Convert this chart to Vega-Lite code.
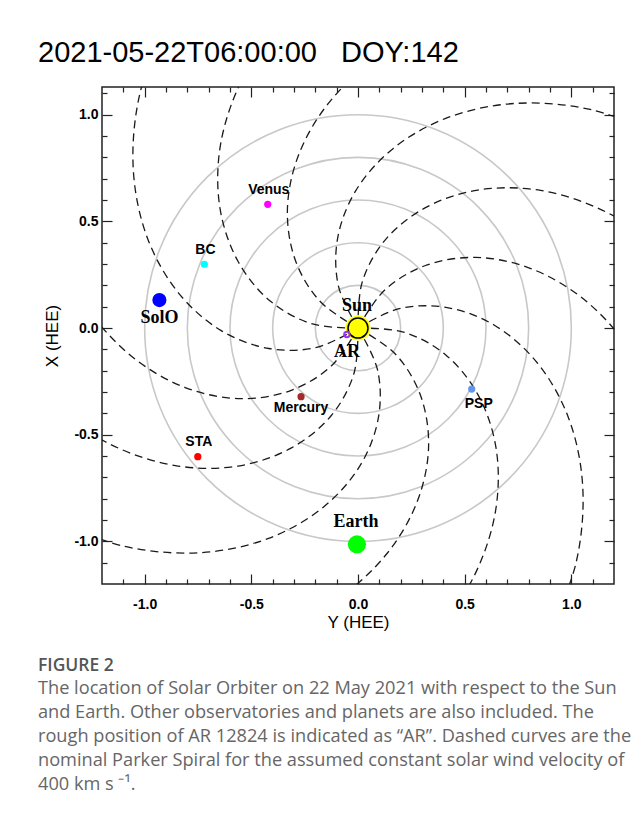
{
  "$schema": "https://vega.github.io/schema/vega-lite/v6.json",
  "background": "#ffffff",
  "padding": {"left": 37, "top": 38, "right": 10, "bottom": 10},
  "autosize": {"type": "pad"},
  "spacing": 26,
  "config": {"view": {"stroke": null}, "font": "Liberation Sans"},
  "datasets": {
    "rings": [
      {"x": 0, "y": 0, "r": 0.2},
      {"x": 0, "y": 0, "r": 0.4},
      {"x": 0, "y": 0, "r": 0.6},
      {"x": 0, "y": 0, "r": 0.8},
      {"x": 0, "y": 0, "r": 1.0}
    ],
    "objects": [
      {"name": "SolO", "x": -0.931, "y": 0.131},
      {"name": "BC", "x": -0.72, "y": 0.299},
      {"name": "Venus", "x": -0.423, "y": 0.58},
      {"name": "Mercury", "x": -0.267, "y": -0.322},
      {"name": "STA", "x": -0.751, "y": -0.603},
      {"name": "PSP", "x": 0.533, "y": -0.286},
      {"name": "Earth", "x": -0.005, "y": -1.014},
      {"name": "AR", "x": -0.052, "y": -0.03},
      {"name": "Sun", "x": 0, "y": 0}
    ],
    "spirals": [
      {"s": "A", "j": 0, "x": 0, "y": 0}, {"s": "A", "j": 1, "x": 0.213, "y": -0.019}, {"s": "A", "j": 2, "x": 0.41, "y": -0.125}, {"s": "A", "j": 3, "x": 0.562, "y": -0.312}, {"s": "A", "j": 4, "x": 0.647, "y": -0.562}, {"s": "A", "j": 5, "x": 0.645, "y": -0.856}, {"s": "A", "j": 6, "x": 0.543, "y": -1.165}, {"s": "A", "j": 7, "x": 0.337, "y": -1.462}, {"s": "A", "j": 8, "x": 0.03, "y": -1.714},
      {"s": "B", "j": 0, "x": 0, "y": 0}, {"s": "B", "j": 1, "x": 0.194, "y": 0.091}, {"s": "B", "j": 2, "x": 0.418, "y": 0.096}, {"s": "B", "j": 3, "x": 0.643, "y": 0.011}, {"s": "B", "j": 4, "x": 0.841, "y": -0.164}, {"s": "B", "j": 5, "x": 0.986, "y": -0.419}, {"s": "B", "j": 6, "x": 1.053, "y": -0.737}, {"s": "B", "j": 7, "x": 1.023, "y": -1.097}, {"s": "B", "j": 8, "x": 0.883, "y": -1.469},
      {"s": "C", "j": 0, "x": 0, "y": 0}, {"s": "C", "j": 1, "x": 0.123, "y": 0.176}, {"s": "C", "j": 2, "x": 0.313, "y": 0.292}, {"s": "C", "j": 3, "x": 0.551, "y": 0.331}, {"s": "C", "j": 4, "x": 0.81, "y": 0.279}, {"s": "C", "j": 5, "x": 1.063, "y": 0.131}, {"s": "C", "j": 6, "x": 1.281, "y": -0.112}, {"s": "C", "j": 7, "x": 1.434, "y": -0.439}, {"s": "C", "j": 8, "x": 1.499, "y": -0.831},
      {"s": "D", "j": 0, "x": 0, "y": 0}, {"s": "D", "j": 1, "x": 0.019, "y": 0.213}, {"s": "D", "j": 2, "x": 0.125, "y": 0.41}, {"s": "D", "j": 3, "x": 0.312, "y": 0.562}, {"s": "D", "j": 4, "x": 0.562, "y": 0.647}, {"s": "D", "j": 5, "x": 0.856, "y": 0.645}, {"s": "D", "j": 6, "x": 1.165, "y": 0.543}, {"s": "D", "j": 7, "x": 1.462, "y": 0.337}, {"s": "D", "j": 8, "x": 1.714, "y": 0.03},
      {"s": "E", "j": 0, "x": 0, "y": 0}, {"s": "E", "j": 1, "x": -0.091, "y": 0.194}, {"s": "E", "j": 2, "x": -0.096, "y": 0.418}, {"s": "E", "j": 3, "x": -0.011, "y": 0.643}, {"s": "E", "j": 4, "x": 0.164, "y": 0.841}, {"s": "E", "j": 5, "x": 0.419, "y": 0.986}, {"s": "E", "j": 6, "x": 0.737, "y": 1.053}, {"s": "E", "j": 7, "x": 1.097, "y": 1.023}, {"s": "E", "j": 8, "x": 1.469, "y": 0.883},
      {"s": "F", "j": 0, "x": 0, "y": 0}, {"s": "F", "j": 1, "x": -0.176, "y": 0.123}, {"s": "F", "j": 2, "x": -0.292, "y": 0.313}, {"s": "F", "j": 3, "x": -0.331, "y": 0.551}, {"s": "F", "j": 4, "x": -0.279, "y": 0.81}, {"s": "F", "j": 5, "x": -0.131, "y": 1.063}, {"s": "F", "j": 6, "x": 0.112, "y": 1.281}, {"s": "F", "j": 7, "x": 0.439, "y": 1.434}, {"s": "F", "j": 8, "x": 0.831, "y": 1.499},
      {"s": "G", "j": 0, "x": 0, "y": 0}, {"s": "G", "j": 1, "x": -0.213, "y": 0.019}, {"s": "G", "j": 2, "x": -0.41, "y": 0.125}, {"s": "G", "j": 3, "x": -0.562, "y": 0.312}, {"s": "G", "j": 4, "x": -0.647, "y": 0.562}, {"s": "G", "j": 5, "x": -0.645, "y": 0.856}, {"s": "G", "j": 6, "x": -0.543, "y": 1.165}, {"s": "G", "j": 7, "x": -0.337, "y": 1.462}, {"s": "G", "j": 8, "x": -0.03, "y": 1.714},
      {"s": "H", "j": 0, "x": 0, "y": 0}, {"s": "H", "j": 1, "x": -0.194, "y": -0.091}, {"s": "H", "j": 2, "x": -0.418, "y": -0.096}, {"s": "H", "j": 3, "x": -0.643, "y": -0.011}, {"s": "H", "j": 4, "x": -0.841, "y": 0.164}, {"s": "H", "j": 5, "x": -0.986, "y": 0.419}, {"s": "H", "j": 6, "x": -1.053, "y": 0.737}, {"s": "H", "j": 7, "x": -1.023, "y": 1.097}, {"s": "H", "j": 8, "x": -0.883, "y": 1.469},
      {"s": "I", "j": 0, "x": 0, "y": 0}, {"s": "I", "j": 1, "x": -0.123, "y": -0.176}, {"s": "I", "j": 2, "x": -0.313, "y": -0.292}, {"s": "I", "j": 3, "x": -0.551, "y": -0.331}, {"s": "I", "j": 4, "x": -0.81, "y": -0.279}, {"s": "I", "j": 5, "x": -1.063, "y": -0.131}, {"s": "I", "j": 6, "x": -1.281, "y": 0.112}, {"s": "I", "j": 7, "x": -1.434, "y": 0.439}, {"s": "I", "j": 8, "x": -1.499, "y": 0.831},
      {"s": "J", "j": 0, "x": 0, "y": 0}, {"s": "J", "j": 1, "x": -0.019, "y": -0.213}, {"s": "J", "j": 2, "x": -0.125, "y": -0.41}, {"s": "J", "j": 3, "x": -0.312, "y": -0.562}, {"s": "J", "j": 4, "x": -0.562, "y": -0.647}, {"s": "J", "j": 5, "x": -0.856, "y": -0.645}, {"s": "J", "j": 6, "x": -1.165, "y": -0.543}, {"s": "J", "j": 7, "x": -1.462, "y": -0.337}, {"s": "J", "j": 8, "x": -1.714, "y": -0.03},
      {"s": "K", "j": 0, "x": 0, "y": 0}, {"s": "K", "j": 1, "x": 0.091, "y": -0.194}, {"s": "K", "j": 2, "x": 0.096, "y": -0.418}, {"s": "K", "j": 3, "x": 0.011, "y": -0.643}, {"s": "K", "j": 4, "x": -0.164, "y": -0.841}, {"s": "K", "j": 5, "x": -0.419, "y": -0.986}, {"s": "K", "j": 6, "x": -0.737, "y": -1.053}, {"s": "K", "j": 7, "x": -1.097, "y": -1.023}, {"s": "K", "j": 8, "x": -1.469, "y": -0.883},
      {"s": "L", "j": 0, "x": 0, "y": 0}, {"s": "L", "j": 1, "x": 0.176, "y": -0.123}, {"s": "L", "j": 2, "x": 0.292, "y": -0.313}, {"s": "L", "j": 3, "x": 0.331, "y": -0.551}, {"s": "L", "j": 4, "x": 0.279, "y": -0.81}, {"s": "L", "j": 5, "x": 0.131, "y": -1.063}, {"s": "L", "j": 6, "x": -0.112, "y": -1.281}, {"s": "L", "j": 7, "x": -0.439, "y": -1.434}, {"s": "L", "j": 8, "x": -0.831, "y": -1.499}
    ]
  },
  "vconcat": [
    {
      "width": 512,
      "height": 497,
      "view": {"stroke": "#222222", "strokeWidth": 1.5},
      "title": {
        "text": "2021-05-22T06:00:00\u00a0\u00a0\u00a0DOY:142",
        "anchor": "start",
        "frame": "group",
        "dx": -64,
        "offset": 18,
        "font": "Liberation Sans",
        "fontSize": 29,
        "fontWeight": "normal",
        "color": "#000000"
      },
      "resolve": {"axis": {"x": "independent", "y": "independent"}},
      "layer": [
        {
          "data": {"name": "rings"},
          "mark": {"type": "point", "shape": "circle", "filled": false, "stroke": "#c8c8c8", "strokeWidth": 1.6, "opacity": 1},
          "encoding": {
            "x": {"field": "x", "type": "quantitative", "scale": {"domain": [-1.2, 1.2], "nice": false, "zero": false},
              "axis": {"orient": "bottom", "values": [-1, -0.5, 0, 0.5, 1], "ticks": false, "domain": false, "grid": false,
                "labelExpr": "(datum.value < 0 ? '-' : '') + format(abs(datum.value), '.1f')",
                "labelFont": "Liberation Sans", "labelFontSize": 14, "labelFontWeight": "bold", "labelColor": "#000000", "labelPadding": 13,
                "title": "Y (HEE)", "titleFont": "Liberation Sans", "titleFontSize": 17, "titleFontWeight": "normal", "titleColor": "#000000", "titlePadding": 3}},
            "y": {"field": "y", "type": "quantitative", "scale": {"domain": [-1.2, 1.13], "nice": false, "zero": false},
              "axis": {"orient": "left", "values": [-1, -0.5, 0, 0.5, 1], "ticks": false, "domain": false, "grid": false,
                "labelExpr": "(datum.value < 0 ? '-' : '') + format(abs(datum.value), '.1f')",
                "labelFont": "Liberation Sans", "labelFontSize": 14, "labelFontWeight": "bold", "labelColor": "#000000", "labelPadding": 4,
                "title": "X (HEE)", "titleFont": "Liberation Sans", "titleFontSize": 17, "titleFontWeight": "normal", "titleColor": "#000000", "titlePadding": 12}},
            "size": {"field": "r", "type": "quantitative", "scale": {"type": "pow", "exponent": 2, "domain": [0, 1], "range": [0, 182044]}, "legend": null}
          }
        },
        {
          "data": {"name": "spirals"},
          "mark": {"type": "line", "clip": true, "interpolate": "catmull-rom", "stroke": "#1a1a1a", "strokeWidth": 1.3, "strokeDash": [8, 5]},
          "encoding": {
            "x": {"field": "x", "type": "quantitative", "scale": {"domain": [-1.2, 1.2], "nice": false, "zero": false},
              "axis": {"orient": "bottom", "values": [-1, -0.5, 0, 0.5, 1], "labels": false, "domain": false, "grid": false, "title": null, "tickSize": -10, "tickColor": "#222222", "tickWidth": 1.2}},
            "y": {"field": "y", "type": "quantitative", "scale": {"domain": [-1.2, 1.13], "nice": false, "zero": false},
              "axis": {"orient": "left", "values": [-1, -0.5, 0, 0.5, 1], "labels": false, "domain": false, "grid": false, "title": null, "tickSize": -10, "tickColor": "#222222", "tickWidth": 1.2}},
            "detail": {"field": "s", "type": "nominal"},
            "order": {"field": "j", "type": "quantitative"}
          }
        },
        {
          "data": {"name": "objects"},
          "transform": [{"filter": {"field": "name", "oneOf": ["BC", "Venus", "Mercury", "STA", "PSP"]}}],
          "mark": {"type": "point", "shape": "circle", "filled": true, "opacity": 1, "size": 52},
          "encoding": {
            "x": {"field": "x", "type": "quantitative", "scale": {"domain": [-1.2, 1.2], "nice": false, "zero": false},
              "axis": {"orient": "bottom", "values": [-1.1, -0.9, -0.8, -0.7, -0.6, -0.4, -0.3, -0.2, -0.1, 0.1, 0.2, 0.3, 0.4, 0.6, 0.7, 0.8, 0.9, 1.1], "labels": false, "domain": false, "grid": false, "title": null, "tickSize": -5, "tickColor": "#222222", "tickWidth": 1.2}},
            "y": {"field": "y", "type": "quantitative", "scale": {"domain": [-1.2, 1.13], "nice": false, "zero": false},
              "axis": {"orient": "left", "values": [-1.1, -0.9, -0.8, -0.7, -0.6, -0.4, -0.3, -0.2, -0.1, 0.1, 0.2, 0.3, 0.4, 0.6, 0.7, 0.8, 0.9, 1.1], "labels": false, "domain": false, "grid": false, "title": null, "tickSize": -5, "tickColor": "#222222", "tickWidth": 1.2}},
            "color": {"field": "name", "type": "nominal", "legend": null,
              "scale": {"domain": ["SolO", "BC", "Venus", "Mercury", "STA", "PSP", "Earth"], "range": ["#0000ff", "#00ffff", "#ff00ff", "#a52a2a", "#ff0000", "#6495ed", "#00ff00"]}}
          }
        },
        {
          "data": {"name": "objects"},
          "transform": [{"filter": {"field": "name", "equal": "SolO"}}],
          "mark": {"type": "point", "shape": "circle", "filled": true, "opacity": 1, "size": 200},
          "encoding": {
            "x": {"field": "x", "type": "quantitative", "scale": {"domain": [-1.2, 1.2], "nice": false, "zero": false}, "axis": null},
            "y": {"field": "y", "type": "quantitative", "scale": {"domain": [-1.2, 1.13], "nice": false, "zero": false}, "axis": null},
            "color": {"field": "name", "type": "nominal", "legend": null,
              "scale": {"domain": ["SolO", "BC", "Venus", "Mercury", "STA", "PSP", "Earth"], "range": ["#0000ff", "#00ffff", "#ff00ff", "#a52a2a", "#ff0000", "#6495ed", "#00ff00"]}}
          }
        },
        {
          "data": {"name": "objects"},
          "transform": [{"filter": {"field": "name", "equal": "Earth"}}],
          "mark": {"type": "point", "shape": "circle", "filled": true, "opacity": 1, "size": 330},
          "encoding": {
            "x": {"field": "x", "type": "quantitative", "scale": {"domain": [-1.2, 1.2], "nice": false, "zero": false}, "axis": null},
            "y": {"field": "y", "type": "quantitative", "scale": {"domain": [-1.2, 1.13], "nice": false, "zero": false}, "axis": null},
            "color": {"field": "name", "type": "nominal", "legend": null,
              "scale": {"domain": ["SolO", "BC", "Venus", "Mercury", "STA", "PSP", "Earth"], "range": ["#0000ff", "#00ffff", "#ff00ff", "#a52a2a", "#ff0000", "#6495ed", "#00ff00"]}}
          }
        },
        {
          "data": {"name": "objects"},
          "transform": [{"filter": {"field": "name", "equal": "Sun"}}],
          "mark": {"type": "point", "shape": "circle", "filled": true, "fill": "#ffff00", "opacity": 1, "size": 620},
          "encoding": {
            "x": {"field": "x", "type": "quantitative", "scale": {"domain": [-1.2, 1.2], "nice": false, "zero": false},
              "axis": {"orient": "top", "values": [-1, -0.5, 0, 0.5, 1], "labels": false, "domain": false, "grid": false, "title": null, "tickSize": -10, "tickColor": "#222222", "tickWidth": 1.2}},
            "y": {"field": "y", "type": "quantitative", "scale": {"domain": [-1.2, 1.13], "nice": false, "zero": false},
              "axis": {"orient": "right", "values": [-1, -0.5, 0, 0.5, 1], "labels": false, "domain": false, "grid": false, "title": null, "tickSize": -10, "tickColor": "#222222", "tickWidth": 1.2}}
          }
        },
        {
          "data": {"name": "objects"},
          "transform": [{"filter": {"field": "name", "equal": "Sun"}}],
          "mark": {"type": "point", "shape": "circle", "filled": false, "stroke": "#000000", "strokeWidth": 1.5, "opacity": 1, "size": 400},
          "encoding": {
            "x": {"field": "x", "type": "quantitative", "scale": {"domain": [-1.2, 1.2], "nice": false, "zero": false},
              "axis": {"orient": "top", "values": [-1.1, -0.9, -0.8, -0.7, -0.6, -0.4, -0.3, -0.2, -0.1, 0.1, 0.2, 0.3, 0.4, 0.6, 0.7, 0.8, 0.9, 1.1], "labels": false, "domain": false, "grid": false, "title": null, "tickSize": -5, "tickColor": "#222222", "tickWidth": 1.2}},
            "y": {"field": "y", "type": "quantitative", "scale": {"domain": [-1.2, 1.13], "nice": false, "zero": false},
              "axis": {"orient": "right", "values": [-1.1, -0.9, -0.8, -0.7, -0.6, -0.4, -0.3, -0.2, -0.1, 0.1, 0.2, 0.3, 0.4, 0.6, 0.7, 0.8, 0.9, 1.1], "labels": false, "domain": false, "grid": false, "title": null, "tickSize": -5, "tickColor": "#222222", "tickWidth": 1.2}}
          }
        },
        {
          "data": {"name": "objects"},
          "transform": [{"filter": {"field": "name", "equal": "AR"}}],
          "mark": {"type": "point", "shape": "circle", "filled": false, "stroke": "#9b30ff", "strokeWidth": 2, "opacity": 1, "size": 30},
          "encoding": {
            "x": {"field": "x", "type": "quantitative", "scale": {"domain": [-1.2, 1.2], "nice": false, "zero": false}, "axis": null},
            "y": {"field": "y", "type": "quantitative", "scale": {"domain": [-1.2, 1.13], "nice": false, "zero": false}, "axis": null}
          }
        },
        {
          "data": {"name": "objects"},
          "transform": [{"filter": {"field": "name", "oneOf": ["Venus", "BC", "STA"]}}],
          "mark": {"type": "text", "font": "Liberation Sans", "fontSize": 14, "fontWeight": "bold", "fill": "#000000", "align": "center", "baseline": "middle", "dx": 1, "dy": -14.5},
          "encoding": {
            "x": {"field": "x", "type": "quantitative", "scale": {"domain": [-1.2, 1.2], "nice": false, "zero": false}, "axis": null},
            "y": {"field": "y", "type": "quantitative", "scale": {"domain": [-1.2, 1.13], "nice": false, "zero": false}, "axis": null},
            "text": {"field": "name", "type": "nominal"}
          }
        },
        {
          "data": {"name": "objects"},
          "transform": [{"filter": {"field": "name", "equal": "Mercury"}}],
          "mark": {"type": "text", "font": "Liberation Sans", "fontSize": 14, "fontWeight": "bold", "fill": "#000000", "align": "center", "baseline": "middle", "dx": 0, "dy": 11},
          "encoding": {
            "x": {"field": "x", "type": "quantitative", "scale": {"domain": [-1.2, 1.2], "nice": false, "zero": false}, "axis": null},
            "y": {"field": "y", "type": "quantitative", "scale": {"domain": [-1.2, 1.13], "nice": false, "zero": false}, "axis": null},
            "text": {"field": "name", "type": "nominal"}
          }
        },
        {
          "data": {"name": "objects"},
          "transform": [{"filter": {"field": "name", "equal": "PSP"}}],
          "mark": {"type": "text", "font": "Liberation Sans", "fontSize": 14, "fontWeight": "bold", "fill": "#000000", "align": "center", "baseline": "middle", "dx": 7, "dy": 15},
          "encoding": {
            "x": {"field": "x", "type": "quantitative", "scale": {"domain": [-1.2, 1.2], "nice": false, "zero": false}, "axis": null},
            "y": {"field": "y", "type": "quantitative", "scale": {"domain": [-1.2, 1.13], "nice": false, "zero": false}, "axis": null},
            "text": {"field": "name", "type": "nominal"}
          }
        },
        {
          "data": {"name": "objects"},
          "transform": [{"filter": {"field": "name", "oneOf": ["Sun", "Earth"]}}],
          "mark": {"type": "text", "font": "Liberation Serif", "fontSize": 18, "fontWeight": "bold", "fill": "#000000", "align": "center", "baseline": "middle", "dx": -1, "dy": -22},
          "encoding": {
            "x": {"field": "x", "type": "quantitative", "scale": {"domain": [-1.2, 1.2], "nice": false, "zero": false}, "axis": null},
            "y": {"field": "y", "type": "quantitative", "scale": {"domain": [-1.2, 1.13], "nice": false, "zero": false}, "axis": null},
            "text": {"field": "name", "type": "nominal"}
          }
        },
        {
          "data": {"name": "objects"},
          "transform": [{"filter": {"field": "name", "oneOf": ["SolO", "AR"]}}],
          "mark": {"type": "text", "font": "Liberation Serif", "fontSize": 18, "fontWeight": "bold", "fill": "#000000", "align": "center", "baseline": "middle", "dx": 0, "dy": 17.5},
          "encoding": {
            "x": {"field": "x", "type": "quantitative", "scale": {"domain": [-1.2, 1.2], "nice": false, "zero": false}, "axis": null},
            "y": {"field": "y", "type": "quantitative", "scale": {"domain": [-1.2, 1.13], "nice": false, "zero": false}, "axis": null},
            "text": {"field": "name", "type": "nominal"}
          }
        }
      ]
    },
    {
      "width": 512,
      "height": 1,
      "view": {"stroke": null},
      "data": {"values": []},
      "mark": {"type": "rule"},
      "encoding": {},
      "title": {
        "text": "FIGURE 2",
        "subtitle": [
          "The location of Solar Orbiter on 22 May 2021 with respect to the Sun",
          "and Earth. Other observatories and planets are also included. The",
          "rough position of AR 12824 is indicated as \u201cAR\u201d. Dashed curves are the",
          "nominal Parker Spiral for the assumed constant solar wind velocity of",
          "400 km s\u00a0\u207b\u00b9."
        ],
        "anchor": "start",
        "frame": "group",
        "dx": -64,
        "offset": 0,
        "font": "Open Sans",
        "fontSize": 17.5,
        "fontWeight": 600,
        "color": "#555555",
        "subtitleFont": "Open Sans",
        "subtitleFontSize": 18.2,
        "subtitleFontWeight": "normal",
        "subtitleColor": "#666666",
        "subtitleLineHeight": 24,
        "subtitlePadding": 5
      }
    }
  ]
}
